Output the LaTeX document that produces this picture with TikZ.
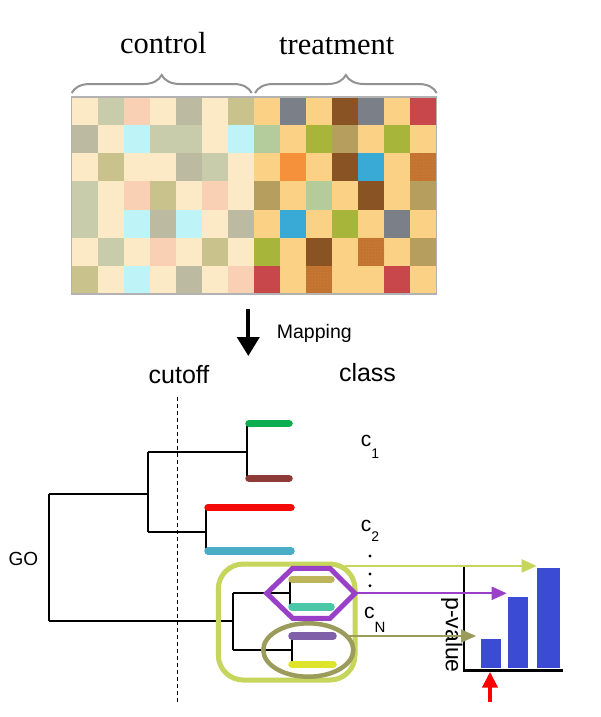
\documentclass[tikz,border=0pt]{standalone}
\usepackage{fontspec}
\setmainfont{Liberation Sans}
\newfontfamily\seriffont{Liberation Serif}
\usetikzlibrary{arrows.meta,decorations.pathreplacing,patterns}
\definecolor{hmcr}{HTML}{FCEAC7}
\definecolor{hmsg}{HTML}{C9CCAA}
\definecolor{hmpc}{HTML}{F9D0B3}
\definecolor{hmgs}{HTML}{BDBAA2}
\definecolor{hmkh}{HTML}{C9C28C}
\definecolor{hmcy}{HTML}{BEF4F7}
\definecolor{hmlo}{HTML}{FAD185}
\definecolor{hmsl}{HTML}{7B7F88}
\definecolor{hmdb}{HTML}{8A5323}
\definecolor{hmrd}{HTML}{C8474B}
\definecolor{hmpg}{HTML}{B4CB9B}
\definecolor{hmol}{HTML}{A8B53B}
\definecolor{hmkk}{HTML}{B59E5E}
\definecolor{hmor}{HTML}{F6913B}
\definecolor{hmbl}{HTML}{39A9D6}
\definecolor{hmdt}{HTML}{C2732F}
\definecolor{dotlight}{HTML}{D9924A}
\definecolor{lfgreen}{HTML}{0BAF4F}
\definecolor{lfbrown}{HTML}{8E3A36}
\definecolor{lfred}{HTML}{F50A0A}
\definecolor{lfcyan}{HTML}{4BACC6}
\definecolor{lfkhaki}{HTML}{BDB55A}
\definecolor{lfteal}{HTML}{4BC6A6}
\definecolor{lfpurple}{HTML}{7F5FA8}
\definecolor{lfyellow}{HTML}{DEE42A}
\definecolor{boxgreen}{HTML}{C6D55B}
\definecolor{hexpurple}{HTML}{9A40C8}
\definecolor{ellolive}{HTML}{9B9B5B}
\definecolor{barblue}{HTML}{3C4BD4}
\definecolor{bracegray}{HTML}{929292}
\begin{document}
\begin{tikzpicture}[x=1pt,y=-1pt,
  treeline/.style={line width=2pt,black},
  leaf/.style={line width=7.5pt,line cap=round},
  conn/.style={line width=2pt,-{Triangle[length=15pt,width=13pt]}},
  bracestyle/.style={bracegray,line width=2pt,decorate,decoration={brace,amplitude=18pt}},
  sanslabel/.style={inner sep=0pt,font=\fontsize{25}{25}\selectfont},
  clab/.style={inner sep=0pt,anchor=base west,font=\fontsize{21}{21}\selectfont},
  dotmark/.style={black}]
\useasboundingbox (0,0) rectangle (600,717);
\fill[white] (0,0) rectangle (600,717);
% heatmap
\foreach \row [count=\r from 0] in {
 {cr,sg,pc,cr,gs,cr,kh,lo,sl,lo,db,sl,lo,rd},
 {gs,cr,cy,sg,sg,cr,cy,pg,lo,ol,kk,lo,ol,lo},
 {cr,kh,cr,cr,gs,sg,cr,lo,or,lo,db,bl,lo,dt},
 {sg,cr,pc,kh,cr,pc,cr,kk,lo,pg,lo,db,lo,kk},
 {sg,cr,cy,gs,cy,cr,gs,lo,bl,lo,ol,lo,sl,lo},
 {cr,sg,cr,pc,cr,kh,cr,ol,lo,db,lo,dt,lo,kk},
 {kh,cr,cy,cr,gs,cr,pc,rd,lo,dt,lo,lo,rd,lo}}{
  \foreach \c [count=\k from 0] in \row {
    \fill[fill=hm\c] ({71.5+\k*26.07},{97+\r*28.14}) rectangle ++(26.3,28.4);
  }
}
% textured cells
\foreach \k/\r in {13/2,11/5,9/6}{
  \fill[pattern=dots,pattern color=dotlight] ({71.5+\k*26.07},{97+\r*28.14}) rectangle ++(26.07,28.14);
}
\draw[line width=1.2pt,color=black!30] (71.5,97) rectangle (436.5,294);
% braces
\coordinate (bcl) at (71.7,93);
\coordinate (bcr) at (251.7,93);
\coordinate (btl) at (255,93);
\coordinate (btr) at (436.7,93);
\draw[bracestyle] (bcl) -- (bcr);
\draw[bracestyle] (btl) -- (btr);
\node[inner sep=0pt,anchor=base,font=\seriffont\fontsize{30.5}{30.5}\selectfont] (control) at (163.3,53.3) {control};
\node[inner sep=0pt,anchor=base,font=\seriffont\fontsize{30.5}{30.5}\selectfont] (treatment) at (336.7,54.3) {treatment};
% mapping arrow
\coordinate (mapA) at (248.3,309);
\coordinate (mapB) at (248.3,356);
\draw[line width=4pt,-{Triangle[length=19pt,width=22pt]}] (mapA) -- (mapB);
\node[inner sep=0pt,anchor=base west,font=\fontsize{19.5}{19.5}\selectfont] (mapping) at (276.7,338.3) {Mapping};
\node[sanslabel,anchor=base] (cutoff) at (179,383) {cutoff};
\node[sanslabel,anchor=base] (class) at (367.5,381) {class};
\node[inner sep=0pt,anchor=base,font=\fontsize{19}{19}\selectfont] (go) at (23.3,565) {GO};
% dashed cutoff line
\coordinate (cutT) at (177.3,396.7);
\coordinate (cutB) at (177.3,702);
\draw[line width=1.5pt,dash pattern=on 4pt off 3pt] (cutT) -- (cutB);
% tree
\draw[treeline] (247.3,423.3) -- (247.3,478.3);
\draw[treeline] (148.3,451.7) -- (247.3,451.7);
\draw[treeline] (206,507.7) -- (206,551);
\draw[treeline] (148.3,531.7) -- (206,531.7);
\draw[treeline] (148.3,451.7) -- (148.3,531.7);
\draw[treeline] (49.3,494.3) -- (148.3,494.3);
\draw[treeline] (49.3,494.3) -- (49.3,621);
\draw[treeline] (49.3,621) -- (233.3,621);
\draw[treeline] (233.3,593.3) -- (233.3,650);
\draw[treeline] (233.3,593.3) -- (290,593.3);
\draw[treeline] (233.3,650) -- (291.7,650);
\draw[treeline] (290,579.3) -- (290,607);
\draw[treeline] (291.7,636) -- (291.7,664.3);
% leaves
\draw[leaf,lfgreen] (249,423.3) -- (289,423.3);
\draw[leaf,lfbrown] (249,478.3) -- (289,478.3);
\draw[leaf,lfred] (208,507.7) -- (291,507.7);
\draw[leaf,lfcyan] (208,551) -- (291,551);
\draw[leaf,lfkhaki] (292,579.3) -- (331,579.3);
\draw[leaf,lfteal] (292,607) -- (331,607);
\draw[leaf,lfpurple] (292,636) -- (333,636);
\draw[leaf,lfyellow] (292,664.3) -- (333,664.3);
% class labels
\node[clab] (c1) at (360.7,446.7) {c\raisebox{-11.3pt}{\fontsize{14}{14}\selectfont 1}};
\node[clab] (c2) at (360.7,531.7) {c\raisebox{-10pt}{\fontsize{14}{14}\selectfont 2}};
\node[clab] (cN) at (364,618.3) {c\raisebox{-14pt}{\fontsize{15}{15}\selectfont N}};
\fill[dotmark] (370,556) circle (1.6pt);
\fill[dotmark] (370,574) circle (1.6pt);
\fill[dotmark] (370,585.7) circle (1.6pt);
% group shapes
\draw[boxgreen,line width=5pt,rounded corners=25pt] (218.3,564) rectangle (355,680);
\draw[hexpurple,line width=5pt,line join=miter] (266.7,593.3) -- (292.7,568.3) -- (330,568.3) -- (355,593.3) -- (330,618.3) -- (292.7,618.3) -- cycle;
\draw[ellolive,line width=4.5pt] (308.3,650) ellipse [x radius=45pt,y radius=26.7pt];
% bar chart
\node[inner sep=0pt,rotate=-90,font=\fontsize{23}{23}\selectfont] (pval) at (451.7,635) {p-value};
\fill[barblue] (480.7,639.3) rectangle (500.7,668.3);
\fill[barblue] (507.7,596.7) rectangle (528.3,668.3);
\fill[barblue] (537.3,568.3) rectangle (560,668.3);
\draw[line width=2.5pt] (464,566.7) -- (464,670.7) -- (563.3,670.7);
% arrows
\coordinate (ya) at (345,566);
\coordinate (yb) at (536.7,566);
\coordinate (pa) at (355,593.3);
\coordinate (pb) at (506.7,593.3);
\coordinate (oa) at (346.6,636);
\coordinate (ob) at (476,636);
\draw[conn,boxgreen] (ya) -- (yb);
\draw[conn,hexpurple] (pa) -- (pb);
\draw[conn,ellolive] (oa) -- (ob);
\coordinate (ra) at (490,701.7);
\coordinate (rb) at (490,671.7);
\draw[red,line width=4pt,-{Triangle[length=16pt,width=15pt]}] (ra) -- (rb);
\end{tikzpicture}
\end{document}
